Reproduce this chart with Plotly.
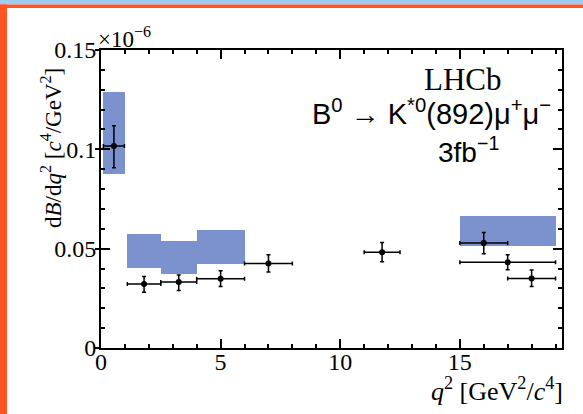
import plotly.graph_objects as go

# ---------------- data (values in units of 1e-6) ----------------
meas_lo = [0.1, 1.1, 2.5, 4.0, 6.0, 11.0, 15.0, 15.0, 17.0]
meas_hi = [0.98, 2.5, 4.0, 6.0, 8.0, 12.5, 17.0, 19.0, 19.0]
meas_val = [0.1017, 0.0322, 0.0332, 0.0348, 0.0425, 0.0482, 0.0529, 0.0432, 0.0350]
meas_err_up = [0.0102, 0.0038, 0.0036, 0.0041, 0.0044, 0.0049, 0.0052, 0.0037, 0.0042]
meas_err_dn = [0.0110, 0.0041, 0.0043, 0.0038, 0.0043, 0.0048, 0.0055, 0.0038, 0.0040]

theo_lo_q2 = [0.1, 1.1, 2.5, 4.0, 15.0]
theo_hi_q2 = [1.0, 2.5, 4.0, 6.0, 19.0]
theo_low = [0.0876, 0.0401, 0.0370, 0.0423, 0.0513]
theo_high = [0.1288, 0.0572, 0.0540, 0.0592, 0.0664]

x_ticks = [0, 5, 10, 15]
y_ticks = [0, 0.05, 0.1, 0.15]

# ---------------- layout constants ----------------
W, H = 583, 414
ML, MR, MT, MB = 101, 21, 50, 66
PW, PH = W - ML - MR, H - MT - MB

def px_x(p):
    return (p - ML) / PW

def px_y(p):
    return (H - MB - p) / PH

SERIF = "Liberation Serif, Times New Roman, serif"
SANS = "Liberation Sans, Arial, sans-serif"

fig = go.Figure()

# theory boxes
fig.add_trace(go.Bar(
    x=[(a + b) / 2 for a, b in zip(theo_lo_q2, theo_hi_q2)],
    width=[b - a for a, b in zip(theo_lo_q2, theo_hi_q2)],
    base=theo_low,
    y=[h - l for l, h in zip(theo_low, theo_high)],
    marker=dict(color="#7b92cf", line=dict(width=0)),
    showlegend=False,
    hoverinfo="skip",
))

# measurements
fig.add_trace(go.Scatter(
    x=[(a + b) / 2 for a, b in zip(meas_lo, meas_hi)],
    y=meas_val,
    mode="markers",
    marker=dict(color="black", size=6),
    error_x=dict(type="data", symmetric=True,
                 array=[(b - a) / 2 for a, b in zip(meas_lo, meas_hi)],
                 color="black", thickness=1.5, width=2),
    error_y=dict(type="data", symmetric=False,
                 array=meas_err_up, arrayminus=meas_err_dn,
                 color="black", thickness=1.5, width=2),
    showlegend=False,
))

# invisible overlay axis to draw outward part of major y ticks
fig.add_trace(go.Scatter(x=[None], y=[None], yaxis="y2", showlegend=False))

axis_common = dict(
    showgrid=False, zeroline=False,
    showline=True, linecolor="black", linewidth=2,
    mirror="ticks", ticks="inside", tickcolor="black", tickwidth=1.5,
    ticklen=9,
    tickfont=dict(family=SERIF, size=24, color="black"),
)

fig.update_layout(
    width=W, height=H,
    margin=dict(l=ML, r=MR, t=MT, b=MB),
    paper_bgcolor="white", plot_bgcolor="white",
    bargap=0,
    xaxis=dict(range=[0, 19.27], tickvals=x_ticks, ticktext=[str(v) for v in x_ticks],
               ticklabelstandoff=-9,
               minor=dict(dtick=1, ticks="inside", ticklen=4, tickcolor="black", tickwidth=1.5),
               **axis_common),
    yaxis=dict(range=[0, 0.15], tickvals=y_ticks, ticktext=["0", "0.05", "0.1", "0.15"],
               ticklabelstandoff=-2,
               minor=dict(dtick=0.01, ticks="inside", ticklen=4, tickcolor="black", tickwidth=1.5),
               **axis_common),
    yaxis2=dict(range=[0, 0.15], overlaying="y", side="left", tickvals=y_ticks,
                showticklabels=False, ticks="outside", ticklen=5, tickwidth=1.5,
                tickcolor="black", showgrid=False, zeroline=False, showline=False),
)

# decorative frame: top blue strip, orange top line and left strip
fig.add_shape(type="rect", xref="paper", yref="paper",
              x0=px_x(0), x1=px_x(W), y0=px_y(0), y1=px_y(4.5),
              fillcolor="#9dcdf2", line=dict(width=0), layer="above")
fig.add_shape(type="rect", xref="paper", yref="paper",
              x0=px_x(0), x1=px_x(W), y0=px_y(4.5), y1=px_y(8),
              fillcolor="#ff5424", line=dict(width=0), layer="above")
fig.add_shape(type="rect", xref="paper", yref="paper",
              x0=px_x(0), x1=px_x(7), y0=px_y(4.5), y1=px_y(H),
              fillcolor="#ff5424", line=dict(width=0), layer="above")

annos = [
    dict(text="×10<sup>−6</sup>", x=px_x(96), y=px_y(37), xanchor="left", yanchor="middle",
         font=dict(family=SERIF, size=23, color="black")),
    dict(text="d<i>B</i>/d<i>q</i><sup>2</sup> [<i>c</i><sup>4</sup>/GeV<sup>2</sup>]",
         x=px_x(51), y=px_y(148), textangle=-90, xanchor="center", yanchor="middle",
         font=dict(family=SERIF, size=23, color="black")),
    dict(text="<i>q</i><sup>2</sup> [GeV<sup>2</sup>/<i>c</i><sup>4</sup>]",
         x=px_x(565), y=px_y(389), xanchor="right", yanchor="middle",
         font=dict(family=SERIF, size=26, color="black")),
    dict(text="LHCb", x=px_x(463), y=px_y(80), xanchor="center", yanchor="middle",
         font=dict(family=SERIF, size=31, color="black")),
    dict(text="B<sup>0</sup> → K<sup>*0</sup>(892)μ<sup>+</sup>μ<sup>−</sup>",
         x=px_x(431), y=px_y(112), xanchor="center", yanchor="middle",
         font=dict(family=SANS, size=29, color="black")),
    dict(text="3fb<sup>−1</sup>", x=px_x(468), y=px_y(150), xanchor="center", yanchor="middle",
         font=dict(family=SANS, size=28, color="black")),
]
for a in annos:
    fig.add_annotation(xref="paper", yref="paper", showarrow=False, **a)

fig.write_html("out.html")
